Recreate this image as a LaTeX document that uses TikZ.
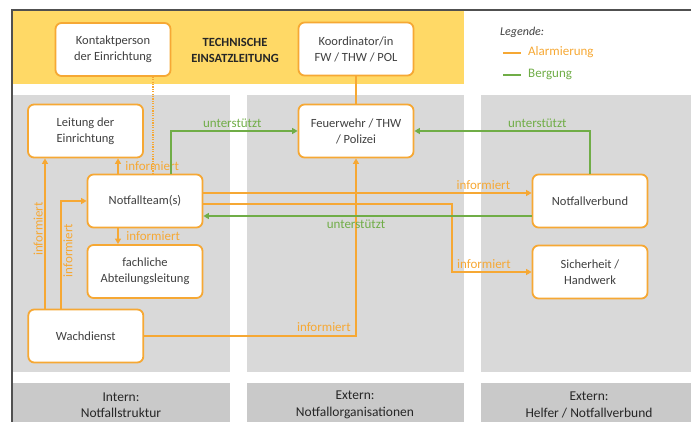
\documentclass[tikz,border=0pt]{standalone}
\usepackage{fontspec}
\setmainfont{Carlito}
\usetikzlibrary{arrows.meta,calc}
\definecolor{org}{RGB}{246,168,52}
\definecolor{grn}{RGB}{112,173,71}
\definecolor{ylw}{RGB}{255,217,102}
\definecolor{colgrey}{RGB}{217,217,217}
\definecolor{bandgrey}{RGB}{201,201,201}
\definecolor{framec}{RGB}{80,80,80}
\definecolor{txt}{RGB}{64,64,64}
\begin{document}
\begin{tikzpicture}[x=1pt,y=-1pt,
  box/.style={draw=org, line width=1.8pt, fill=white, rounded corners=6pt,
    minimum width=115pt, minimum height=53pt, align=center, text=txt,
    font=\fontsize{12.5}{16}\selectfont, inner sep=2pt},
  alarm/.style={draw=org, line width=1.8pt, -{Triangle[length=5.5pt,width=6pt]}},
  berg/.style={draw=grn, line width=1.8pt, -{Triangle[length=5.5pt,width=6pt]}},
  olab/.style={text=org, font=\fontsize{13}{15}\selectfont, inner sep=1.5pt},
  glab/.style={text=grn, font=\fontsize{13}{15}\selectfont, inner sep=1.5pt},
  bandlab/.style={align=center, text=black!85, font=\fontsize{13.5}{16.5}\selectfont},
]
\useasboundingbox (0,0) rectangle (691,422);
% backgrounds
\fill[ylw] (12,10) rectangle (464,84);
\fill[colgrey] (12,95) rectangle (230,372);
\fill[colgrey] (247,95) rectangle (463.5,372);
\fill[colgrey] (481,95) rectangle (691,372);
\fill[bandgrey] (12,383) rectangle (230,422);
\fill[bandgrey] (247,383) rectangle (463.5,422);
\fill[bandgrey] (481,383) rectangle (691,422);
\draw[framec, line width=1.5pt] (691,10) -- (12,10) -- (12,422);

% header
\node[box] (kontakt) at (113,49.5) {Kontaktperson\\der Einrichtung};
\node[box] (koord) at (356,49) {Koordinator/in\\FW / THW / POL};
\node[align=center, text=black!85, font=\fontsize{12.5}{16}\selectfont\bfseries] (tel) at (235,50) {TECHNISCHE\\EINSATZLEITUNG};

% legend
\node[anchor=west, text=txt, font=\fontsize{12}{14}\selectfont\itshape, inner sep=0pt] (leg) at (500,32) {Legende:};
\coordinate (la1) at (503,53); \coordinate (la2) at (521,53);
\coordinate (lb1) at (503,75); \coordinate (lb2) at (521,75);
\draw[org, line width=1.6pt] (la1) -- (la2);
\draw[grn, line width=1.6pt] (lb1) -- (lb2);
\node[anchor=west, text=org, font=\fontsize{13}{15}\selectfont, inner sep=0pt] (lalarm) at (528,52) {Alarmierung};
\node[anchor=west, text=grn, font=\fontsize{13}{15}\selectfont, inner sep=0pt] (lberg) at (528,74) {Bergung};

% nodes
\node[box] (leitung) at (85.5,131) {Leitung der\\Einrichtung};
\node[box] (team) at (145,201) {Notfallteam(s)};
\node[box] (fach) at (145,271.5) {fachliche\\Abteilungsleitung};
\node[box] (wach) at (85.8,336) {Wachdienst};
\node[box] (fw) at (356,131) {Feuerwehr / THW\\/ Polizei};
\node[box] (verbund) at (590,201) {Notfallverbund};
\node[box] (sicher) at (590,272) {Sicherheit /\\Handwerk};

% bottom bands
\node[bandlab] (b1) at (121,405) {Intern:\\Notfallstruktur};
\node[bandlab] (b2) at (355,405) {Extern:\\Notfallorganisationen};
\node[bandlab] (b3) at (589,405) {Extern:\\Helfer / Notfallverbund};

% helper coordinates
\coordinate (kx) at (153,0);
\coordinate (ax) at (118,0);
\coordinate (w1) at (45,0);
\coordinate (w2) at (61,0);
\coordinate (gx) at (171,0);
\coordinate (sx) at (452,0);
\coordinate (t1) at ([yshift=8pt]team.east);
\coordinate (v1) at ([yshift=8pt]verbund.west);
\coordinate (t2) at ([yshift=-3pt]team.east);
\coordinate (t3) at ([yshift=-15pt]team.east);
\coordinate (v3) at ([yshift=-15pt]verbund.west);

% thin links
\draw[org, line width=1.3pt, dash pattern=on 1.2pt off 1.2pt] (kx |- kontakt.south) -- (kx |- team.north);
\draw[org, line width=1.5pt] (koord.south) -- (fw.north);

% Alarmierung
\draw[alarm] (ax |- team.north) -- node[olab, anchor=west, xshift=5pt] {informiert} (ax |- leitung.south);
\draw[alarm] (ax |- team.south) -- node[olab, anchor=west, xshift=6pt] {informiert} (ax |- fach.north);
\draw[alarm] (w1 |- wach.north) -- node[olab, pos=0.53, rotate=90, anchor=south] {informiert} (w1 |- leitung.south);
\draw[alarm] (w2 |- wach.north) |- node[olab, pos=0.27, rotate=90, anchor=north] {informiert} (team.west);
\draw[alarm] (wach.east) -| node[olab, pos=0.5, anchor=south east, xshift=-3pt, yshift=2pt] {informiert} (fw.south);
\draw[alarm] (t1) -- node[olab, pos=0.853, anchor=south, yshift=1pt] {informiert} (v1);
\draw[alarm] (t2) -| (sx |- sicher.west) -- node[olab, pos=0.4, anchor=south, yshift=1pt] {informiert} (sicher.west);

% Bergung
\draw[berg] (v3) -- node[glab, pos=0.535, anchor=north, yshift=-1pt] {unterstützt} (t3);
\draw[berg] (gx |- team.north) |- node[glab, pos=0.742, anchor=south, yshift=1pt] {unterstützt} (fw.west);
\draw[berg] (verbund.north) |- node[glab, pos=0.65, anchor=south, yshift=1pt] {unterstützt} (fw.east);
\end{tikzpicture}
\end{document}
